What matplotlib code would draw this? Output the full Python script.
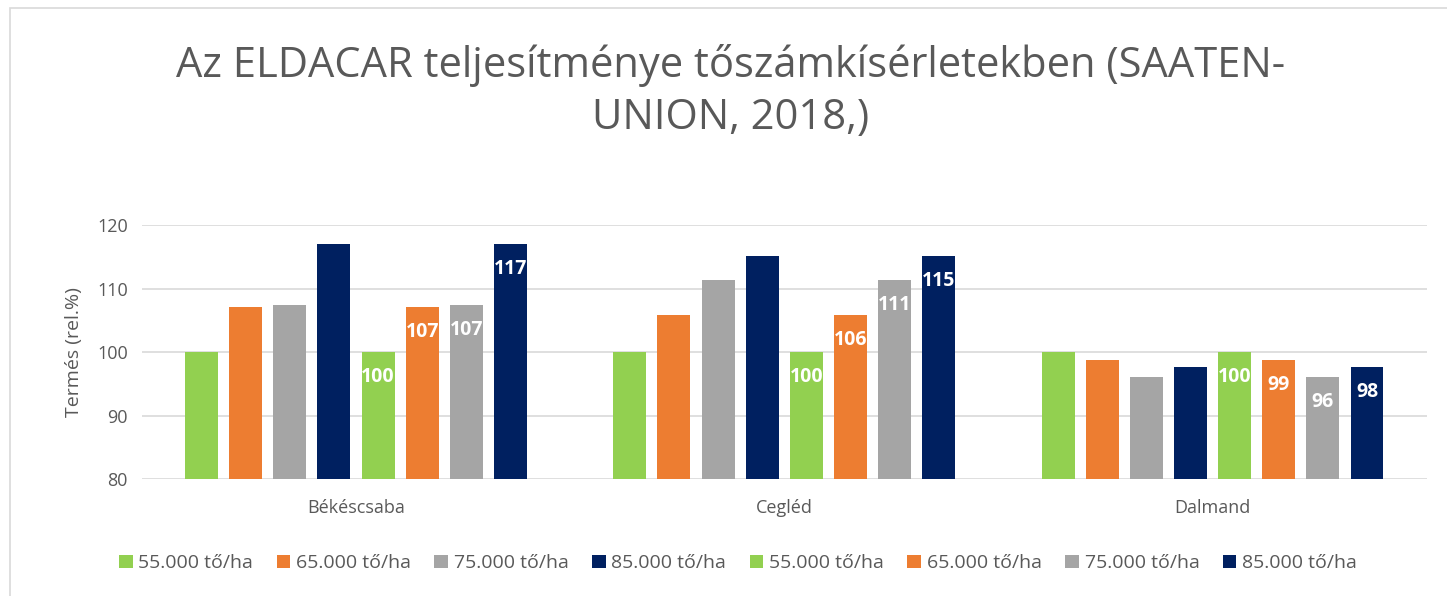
import numpy as np
import matplotlib
matplotlib.use('Agg')
import matplotlib.pyplot as plt
from matplotlib.patches import Rectangle

plt.rcParams['font.family'] = ['Open Sans', 'DejaVu Sans']

categories = ['Békéscsaba', 'Cegléd', 'Dalmand']
series_names = ['55.000 tő/ha', '65.000 tő/ha', '75.000 tő/ha', '85.000 tő/ha',
                '55.000 tő/ha', '65.000 tő/ha', '75.000 tő/ha', '85.000 tő/ha']
v55 = [100, 100, 100]
v65 = [107.1, 105.9, 98.7]
v75 = [107.4, 111.4, 96.1]
v85 = [117.0, 115.1, 97.7]
values = [v55, v65, v75, v85, v55, v65, v75, v85]
labeled = [False, False, False, False, True, True, True, True]
colors = ['#92D050', '#ED7D31', '#A5A5A5', '#002060'] * 2

text_gray = '#595959'

fig = plt.figure(figsize=(14.47, 5.96), dpi=100)
ax = fig.add_axes([0.098, 0.196, 0.888, 0.426])

# chart area border
fig.patches.append(Rectangle((0.007, -0.02), 1.1, 1.006, transform=fig.transFigure,
                             fill=False, edgecolor='#D9D9D9', linewidth=1.2))

x = np.arange(len(categories))
slot = 0.103
width = 0.077
n = len(values)
for i, vals in enumerate(values):
    offs = (i - (n - 1) / 2) * slot
    bars = ax.bar(x + offs, np.array(vals) - 80, width, bottom=80, color=colors[i],
                  label=series_names[i], zorder=3)
    if labeled[i]:
        ax.bar_label(bars, labels=[f'{v:.0f}' for v in vals], padding=-25,
                     color='white', fontsize=14, fontweight='bold', zorder=4)

ax.set_ylim(80, 120)
ax.set_xlim(-0.5, 2.5)
ax.set_yticks([80, 90, 100, 110, 120])
ax.set_xticks(x)
ax.set_xticklabels(categories)
ax.tick_params(axis='both', length=0, labelsize=13, colors=text_gray, pad=10)
ax.tick_params(axis='x', pad=14)
ax.grid(axis='y', color='#D9D9D9', linewidth=1.2, zorder=0)
for s in ax.spines.values():
    s.set_visible(False)
ax.set_ylabel('Termés (rel.%)', fontsize=14, color=text_gray, labelpad=10)

fig.text(0.505, 0.846, 'Az ELDACAR teljesítménye tőszámkísérletekben (SAATEN-\nUNION, 2018,)',
         ha='center', va='center', fontsize=30, color=text_gray, linespacing=1.3)

fig.legend(loc='center', bbox_to_anchor=(0.51, 0.055), ncol=8, frameon=False,
           fontsize=14, handlelength=0.7, handleheight=0.7, handletextpad=0.3,
           columnspacing=1.2, labelcolor=text_gray)

fig.savefig('out.png', dpi=100, facecolor='white')
